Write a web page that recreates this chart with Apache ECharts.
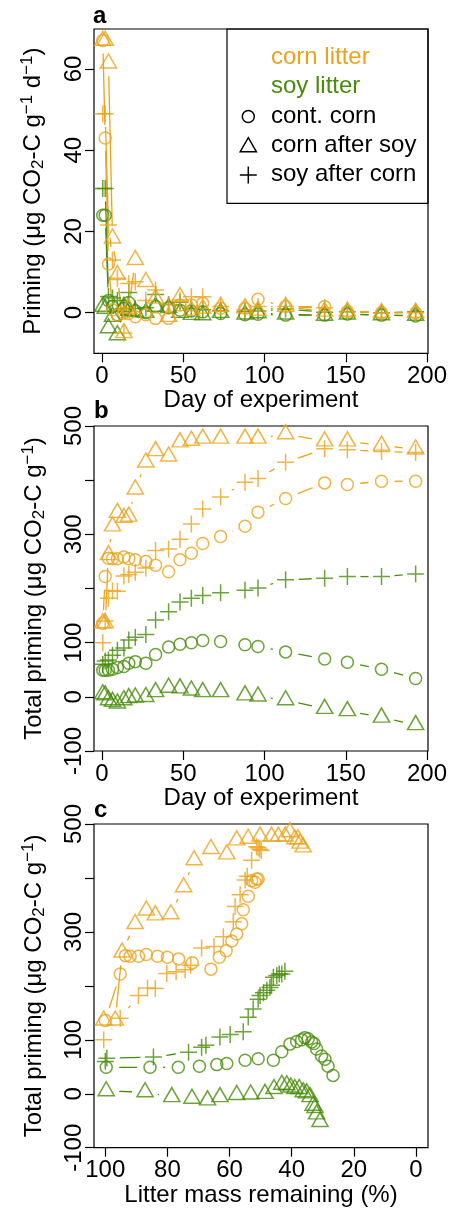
<!DOCTYPE html>
<html>
<head>
<meta charset="utf-8">
<script src="https://cdn.jsdelivr.net/npm/echarts@6/dist/echarts.min.js"></script>
<style>
  html, body { margin: 0; padding: 0; background: #fff; }
  #chart { width: 452px; height: 1213px; }
</style>
</head>
<body>
<div id="chart"></div>
<script>
// sampling days of the incubation
const days = [0.5, 2, 4, 6.5, 9.5, 13.5, 16.5, 20.5, 27, 33, 41, 48, 55, 62, 73, 88, 96, 113, 137, 151, 172, 193];

// panel a: priming rate (ug CO2-C g-1 d-1)
const rateCornCC = [67, 43, 12, 0.7, -0.6, -0.1, -0.2, -1, -0.5, -1.4, -1.4, 1.9, 1.9, 2.3, 1.1, 1.1, 3.3, 1.5, 1.5, 0.3, 0, 0];
const rateCornCS = [67, 67, 61.4, 18.3, 9.3, -5, 1, 13, 7.6, 3.5, -1, 3.9, 0.5, 1, 1.5, 1.1, 0.5, 1.5, 0.3, 0.3, 0, 0];
const rateCornSC = [49, 49, 21.6, 13, 8.5, -5, 7.2, 7.6, 3, 5.6, 2, 3.1, 3.9, 3.9, 1.5, 0.7, 1.5, 1.5, 1.2, 0.3, 0, 0];
const rateSoyCC = [24, 24, 3, 1.5, -0.5, 1, 2.5, 0.5, 0, 1.5, 1.2, 0.6, 0.4, 0.2, -0.2, -0.5, -0.4, -0.6, -0.6, -0.3, -0.6, -0.8];
const rateSoyCS = [1.5, 1, -3.8, -1, -5.5, 1.5, 0.5, 0.2, 0, 1.5, 1.2, 0, -0.5, -0.6, 0, -0.4, -0.1, -0.4, -0.7, -0.4, -0.6, -0.7];
const rateSoySC = [30.6, 30.6, 4, 3.6, 3, 1, 5, 1, 1.2, 4.5, 2, 2.6, 1, 0.7, 0.5, 0.3, 0.4, 0.9, 0.1, 0.2, 0, 0.2];

// panels b and c: cumulative priming (ug CO2-C g-1)
const cumCornCC = [136, 222, 256, 255, 255, 258, 255, 253, 250, 243, 231, 253, 265, 283, 296, 315, 341, 366, 395, 392, 398, 398];
const cumCornCS = [136, 136, 262, 315, 340, 331, 333, 383, 433, 454, 444, 470, 473, 477, 477, 477, 477, 485, 472, 472, 464, 457];
const cumCornSC = [100, 140, 182, 196, 195, 223, 226, 230, 238, 270, 273, 291, 319, 347, 369, 396, 403, 433, 458, 456, 453, 451];
const cumSoyCC = [49, 49, 49, 51, 54, 56, 62, 65, 62, 78, 92, 97, 100, 104, 102, 96, 93, 83, 70, 64, 51, 34];
const cumSoyCS = [5, 3, -6, -9, -12, -6, -2, -1, 0, 9, 17, 16, 12, 9, 9, 3, 1, -6, -22, -26, -38, -52];
const cumSoySC = [60, 66, 68, 77, 86, 90, 105, 110, 115, 142, 157, 175, 182, 187, 192, 197, 201, 216, 219, 222, 222, 227];

// panel c: litter mass remaining (%)
const massCornCC = [100, 95.2, 93.5, 92, 89.3, 86.8, 83.2, 80, 76.4, 72, 66, 63.3, 61.1, 59.3, 57.7, 56.1, 55.6, 54, 52.9, 51.8, 51.3, 50.8];
const massCornCS = [100.5, 96.8, 94.6, 90.4, 86.8, 83.9, 78.9, 74.8, 71.4, 66, 60.9, 57.7, 54, 50.2, 46.5, 44.3, 42.1, 40.6, 39, 38, 37.3, 36.3];
const massCornSC = [100.5, 95.2, 89.3, 86.4, 83.9, 80.2, 77.2, 74.3, 72.5, 69, 65, 62, 58.8, 58.2, 56.6, 55, 54.3, 52.9, 51.3, 50.8, 50.3, 49.8];
const massSoyCC = [99.7, 85.6, 76.5, 69.7, 64.1, 60.9, 55, 50.8, 45.9, 43.2, 40.6, 38.4, 36.8, 35.8, 34.7, 33.6, 32.8, 32, 30.4, 29.3, 28.3, 26.7];
const massSoyCS = [99.7, 87.2, 78.6, 72.1, 67.1, 63.1, 57.7, 53.2, 48.6, 45.7, 43.2, 41.6, 40.3, 39, 37.6, 36.3, 35.2, 34.1, 33.1, 32.5, 32, 30.9];
const massSoySC = [100, 99.5, 84.5, 73.2, 69, 67.6, 63.1, 59.8, 55.6, 54, 52.4, 50.8, 50.2, 49.1, 48, 47, 46.5, 45.9, 44.8, 44, 43.2, 42.2];

// tick labels
const dayTicks = [0, 50, 100, 150, 200];
const rateTicks = [0, 20, 40, 60];
const massTicks = [0, 20, 40, 60, 80, 100];

const ORANGE = '#EBA31C';
const GREEN = '#478C0A';
const FONT = 'Liberation Sans, Arial, Helvetica, sans-serif';
const S = 16;      // symbol size (like R cex)
const GAP = 13;    // gap around points for type "b" lines

const groups = [
  {color: GREEN, shape: 'circle', rate: rateSoyCC, cum: cumSoyCC, mass: massSoyCC},
  {color: GREEN, shape: 'triangle', rate: rateSoyCS, cum: cumSoyCS, mass: massSoyCS},
  {color: GREEN, shape: 'plus', rate: rateSoySC, cum: cumSoySC, mass: massSoySC},
  {color: ORANGE, shape: 'circle', rate: rateCornCC, cum: cumCornCC, mass: massCornCC},
  {color: ORANGE, shape: 'triangle', rate: rateCornCS, cum: cumCornCS, mass: massCornCS},
  {color: ORANGE, shape: 'plus', rate: rateCornSC, cum: cumCornSC, mass: massCornSC}
];

function symbolOpts(shape) {
  if (shape === 'circle') return {symbol: 'circle', symbolSize: 0.75 * S};
  if (shape === 'triangle') return {symbol: 'triangle', symbolSize: [1.01 * S, 0.875 * S], symbolOffset: [0, -0.146 * S]};
  return {symbol: 'path://M0,5L10,5M5,0L5,10', symbolSize: 1.06 * S};
}

// R style type="b" line: segments between points, leaving a gap round each point
function brokenLine(xs, ys, color, idx) {
  return {
    type: 'custom', xAxisIndex: idx, yAxisIndex: idx, silent: true, clip: true, z: 2,
    data: xs.map((x, i) => [x, ys[i]]),
    encode: {x: 0, y: 1},
    renderItem: function (params, api) {
      const i = params.dataIndex;
      if (i === 0) return null;
      const a = api.coord([xs[i - 1], ys[i - 1]]);
      const b = api.coord([xs[i], ys[i]]);
      const dx = b[0] - a[0], dy = b[1] - a[1];
      const len = Math.sqrt(dx * dx + dy * dy);
      if (len <= 2 * GAP) return null;
      const f = GAP / len;
      return {
        type: 'line',
        shape: {x1: a[0] + dx * f, y1: a[1] + dy * f, x2: b[0] - dx * f, y2: b[1] - dy * f},
        style: {stroke: color, lineWidth: 1.3}
      };
    }
  };
}

function points(xs, ys, g, idx) {
  return Object.assign({
    type: 'scatter', xAxisIndex: idx, yAxisIndex: idx, silent: true, z: 3,
    data: xs.map((x, i) => [x, ys[i]]),
    itemStyle: {color: 'rgba(0,0,0,0)', borderColor: g.color, borderWidth: 1.5},
    emphasis: {disabled: true}
  }, symbolOpts(g.shape));
}

const series = [];
groups.forEach(g => {
  series.push(brokenLine(days, g.rate, g.color, 0));
  series.push(points(days, g.rate, g, 0));
  series.push(brokenLine(days, g.cum, g.color, 1));
  series.push(points(days, g.cum, g, 1));
  series.push(brokenLine(g.mass, g.cum, g.color, 2));
  series.push(points(g.mass, g.cum, g, 2));
});

const tickStyle = {length: 9, lineStyle: {color: '#000', width: 1.2}};
const labelStyle = {fontSize: 24, lineHeight: 24, color: '#000', fontFamily: FONT};
const nameStyle = {fontSize: 24, lineHeight: 28, color: '#000', fontFamily: FONT};
const rich = {
  n: {fontSize: 24, lineHeight: 28, color: '#000', fontFamily: FONT},
  s: {fontSize: 17, lineHeight: 17, verticalAlign: 'bottom', color: '#000', fontFamily: FONT},
  p: {fontSize: 17, lineHeight: 17, verticalAlign: 'top', color: '#000', fontFamily: FONT}
};

function xAxisDef(idx, opts) {
  return Object.assign({
    gridIndex: idx, type: 'value',
    axisLine: {show: false, onZero: false},
    axisTick: Object.assign({}, tickStyle),
    axisLabel: Object.assign({margin: 11}, labelStyle),
    splitLine: {show: false},
    nameLocation: 'middle', nameGap: 33, nameMoveOverlap: false,
    nameTextStyle: nameStyle
  }, opts);
}

function yAxisDef(idx, opts) {
  return Object.assign({
    gridIndex: idx, type: 'value',
    axisLine: {show: false, onZero: false},
    axisTick: Object.assign({}, tickStyle),
    splitLine: {show: false},
    nameLocation: 'middle', nameRotate: 90, nameGap: 46, nameMoveOverlap: false,
    nameTextStyle: Object.assign({rich: rich}, nameStyle)
  }, opts);
}

const cumLabels = {
  rotate: 90, margin: 8, showMinLabel: true, showMaxLabel: true,
  formatter: v => (v === 400 || v === 200) ? '' : String(v)
};

const gridBase = {left: 94, width: 334, show: true, borderColor: '#000', borderWidth: 1.2,
  backgroundColor: 'transparent', containLabel: false, outerBoundsMode: 'none'};

const legendX = 248.3;
const legendRows = [57.5, 86.5, 116, 145.5, 174.5];

const option = {
  animation: false,
  textStyle: {fontFamily: FONT},
  grid: [
    Object.assign({top: 29, height: 324.3}, gridBase),
    Object.assign({top: 426, height: 325}, gridBase),
    Object.assign({top: 824, height: 323.7}, gridBase)
  ],
  xAxis: [
    xAxisDef(0, {min: -4.9, max: 200.6, name: 'Day of experiment',
      axisTick: Object.assign({customValues: dayTicks}, tickStyle),
      axisLabel: Object.assign({margin: 11, customValues: dayTicks}, labelStyle)}),
    xAxisDef(1, {min: -4.9, max: 200.6, name: 'Day of experiment',
      axisTick: Object.assign({customValues: dayTicks}, tickStyle),
      axisLabel: Object.assign({margin: 11, customValues: dayTicks}, labelStyle)}),
    xAxisDef(2, {min: -3.86, max: 103.63, inverse: true, name: 'Litter mass remaining (%)', nameGap: 34,
      axisTick: Object.assign({customValues: massTicks}, tickStyle),
      axisLabel: Object.assign({margin: 11, customValues: massTicks}, labelStyle)})
  ],
  yAxis: [
    yAxisDef(0, {min: -10, max: 69.85, nameGap: 47,
      name: '{n|Priming (μg CO}{s|2}{n|-C g}{p|−1}{n| d}{p|−1}{n|)}',
      axisTick: Object.assign({customValues: rateTicks}, tickStyle),
      axisLabel: Object.assign({rotate: 90, margin: 8, customValues: rateTicks}, labelStyle)}),
    yAxisDef(1, {min: -100, max: 500, interval: 100,
      name: '{n|Total priming (μg CO}{s|2}{n|-C g}{p|−1}{n|)}',
      axisLabel: Object.assign({}, labelStyle, cumLabels)}),
    yAxisDef(2, {min: -100, max: 500, interval: 100,
      name: '{n|Total priming (μg CO}{s|2}{n|-C g}{p|−1}{n|)}',
      axisLabel: Object.assign({}, labelStyle, cumLabels)})
  ],
  graphic: [
    // panel letters
    {type: 'text', x: 93, y: 16, style: {text: 'a', fontSize: 24, fontWeight: 'bold', fontFamily: FONT, fill: '#000', verticalAlign: 'middle', textVerticalAlign: 'middle'}},
    {type: 'text', x: 94, y: 411, style: {text: 'b', fontSize: 24, fontWeight: 'bold', fontFamily: FONT, fill: '#000', verticalAlign: 'middle', textVerticalAlign: 'middle'}},
    {type: 'text', x: 94, y: 810, style: {text: 'c', fontSize: 24, fontWeight: 'bold', fontFamily: FONT, fill: '#000', verticalAlign: 'middle', textVerticalAlign: 'middle'}},
    // legend box
    {type: 'rect', shape: {x: 227, y: 29, width: 201, height: 174.3}, style: {fill: 'none', stroke: '#000', lineWidth: 1.2}},
    {type: 'text', x: 271, y: legendRows[0], style: {text: 'corn litter', fontSize: 24, fontFamily: FONT, fill: ORANGE, verticalAlign: 'middle', textVerticalAlign: 'middle'}},
    {type: 'text', x: 271, y: legendRows[1], style: {text: 'soy litter', fontSize: 24, fontFamily: FONT, fill: GREEN, verticalAlign: 'middle', textVerticalAlign: 'middle'}},
    {type: 'text', x: 271, y: legendRows[2], style: {text: 'cont. corn', fontSize: 24, fontFamily: FONT, fill: '#000', verticalAlign: 'middle', textVerticalAlign: 'middle'}},
    {type: 'text', x: 271, y: legendRows[3], style: {text: 'corn after soy', fontSize: 24, fontFamily: FONT, fill: '#000', verticalAlign: 'middle', textVerticalAlign: 'middle'}},
    {type: 'text', x: 271, y: legendRows[4], style: {text: 'soy after corn', fontSize: 24, fontFamily: FONT, fill: '#000', verticalAlign: 'middle', textVerticalAlign: 'middle'}},
    {type: 'circle', shape: {cx: legendX, cy: legendRows[2] + 0.5, r: 0.375 * S}, style: {fill: 'none', stroke: '#000', lineWidth: 1.5}},
    {type: 'polygon', shape: {points: [
      [legendX, legendRows[3] + 1.5 - 0.583 * S],
      [legendX + 0.505 * S, legendRows[3] + 1.5 + 0.292 * S],
      [legendX - 0.505 * S, legendRows[3] + 1.5 + 0.292 * S]]},
      style: {fill: 'none', stroke: '#000', lineWidth: 1.5}},
    {type: 'line', shape: {x1: legendX - 0.53 * S, y1: legendRows[4] + 0.5, x2: legendX + 0.53 * S, y2: legendRows[4] + 0.5}, style: {stroke: '#000', lineWidth: 1.5}},
    {type: 'line', shape: {x1: legendX, y1: legendRows[4] + 0.5 - 0.53 * S, x2: legendX, y2: legendRows[4] + 0.5 + 0.53 * S}, style: {stroke: '#000', lineWidth: 1.5}}
  ],
  series: series
};

const chart = echarts.init(document.getElementById('chart'));
chart.setOption(option);
</script>
</body>
</html>
